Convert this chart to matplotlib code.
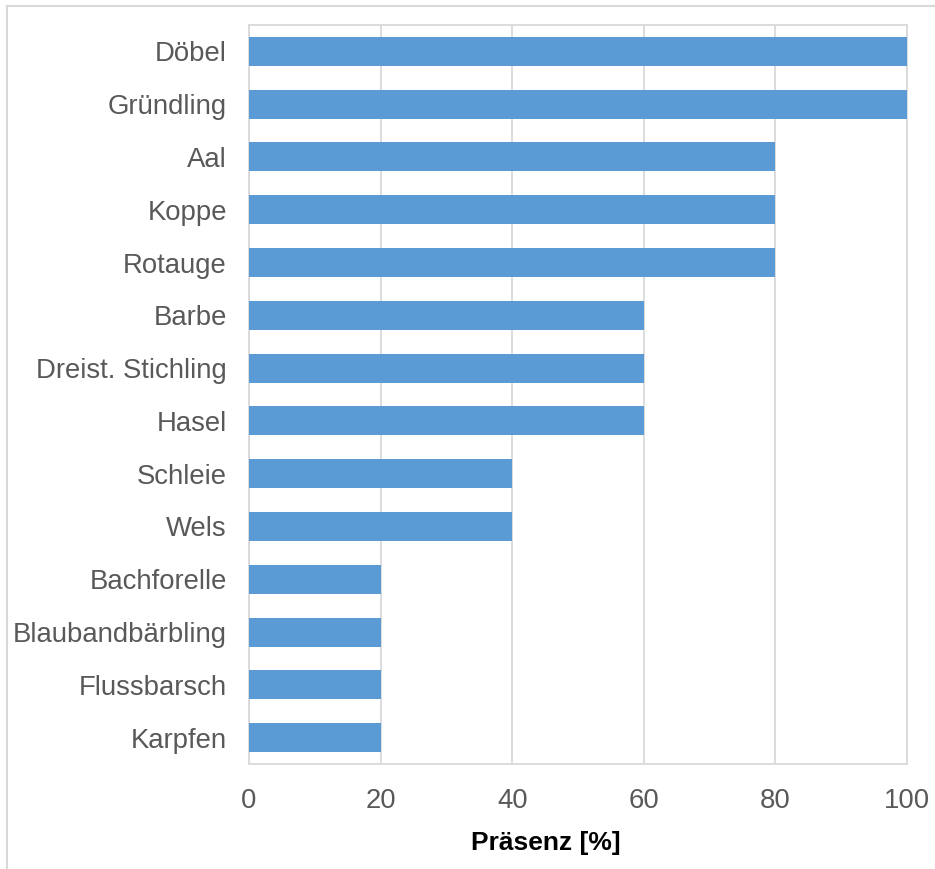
import matplotlib
matplotlib.use("Agg")
import matplotlib.pyplot as plt
from matplotlib.lines import Line2D

categories = ["Döbel", "Gründling", "Aal", "Koppe", "Rotauge", "Barbe",
              "Dreist. Stichling", "Hasel", "Schleie", "Wels", "Bachforelle",
              "Blaubandbärbling", "Flussbarsch", "Karpfen"]
values = [100, 100, 80, 80, 80, 60, 60, 60, 40, 40, 20, 20, 20, 20]
xticks = [0, 20, 40, 60, 80, 100]
xlabel = "Präsenz [%]"

plt.rcParams['font.family'] = ['Liberation Sans', 'DejaVu Sans']

W, H = 935, 869
fig = plt.figure(figsize=(W / 100, H / 100), dpi=100)
ax = fig.add_axes([249 / W, 1 - 764 / H, (907 - 249) / W, (764 - 25) / H])

ypos = list(range(len(categories)))
ax.barh(ypos, values, height=0.55, color="#5B9BD5", zorder=3)
ax.set_ylim(len(categories) - 0.5, -0.5)
ax.set_yticks(ypos)
ax.set_yticklabels(categories)
ax.set_xlim(0, 100)
ax.set_xticks(xticks)
ax.set_xticklabels([str(v) for v in xticks])

ax.xaxis.grid(True, color="#D9D9D9", linewidth=1.3, zorder=0)
ax.set_axisbelow(True)
for s in ax.spines.values():
    s.set_color("#D9D9D9")
    s.set_linewidth(1.3)

ax.tick_params(axis="both", length=0, labelsize=19.8, labelcolor="#595959")
ax.tick_params(axis="y", pad=16)
ax.tick_params(axis="x", pad=17.5)

fig.text(546 / W, 1 - 843 / H, xlabel, ha="center", va="center",
         fontsize=19, fontweight="bold", color="black")

# outer chart border (top and left visible)
fig.add_artist(Line2D([7 / W, 1.0], [1 - 6 / H, 1 - 6 / H], color="#D9D9D9", linewidth=1.5))
fig.add_artist(Line2D([7 / W, 7 / W], [0.0, 1 - 6 / H], color="#D9D9D9", linewidth=1.5))

fig.savefig("out.png", dpi=100)
